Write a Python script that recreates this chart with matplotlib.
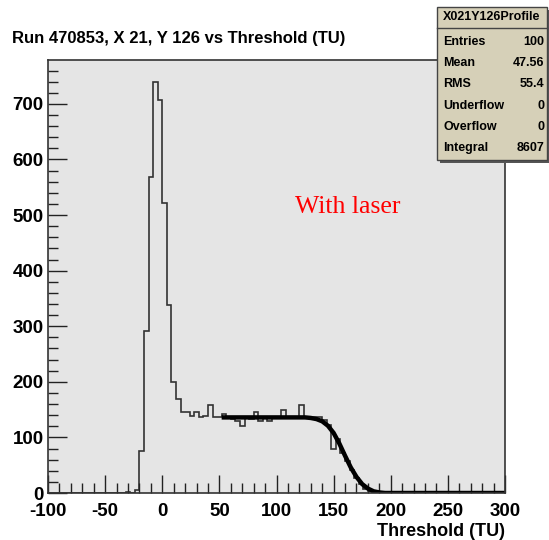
import numpy as np
import matplotlib
matplotlib.use("Agg")
import matplotlib.pyplot as plt
from matplotlib.patches import Rectangle
from matplotlib.ticker import MultipleLocator

plt.rcParams['font.family'] = ['Liberation Sans', 'DejaVu Sans']
plt.rcParams['axes.unicode_minus'] = False

# histogram: 100 bins of width 4 from -100 to 300
x_min, x_max, n_bins = -100, 300, 100
first_edge = -32
counts_read = [1, 0, 5, 75, 292, 568, 740, 707, 522, 338, 199, 170,
               145, 145, 138, 145, 136, 138, 158, 137, 137, 143, 137, 134,
               130, 121, 135, 133, 145, 130, 136, 130, 137, 137, 150, 137,
               137, 135, 158, 137, 137, 136, 136, 131, 122, 79, 97, 72,
               57, 41, 27, 16, 8, 4, 1, 0]

# fit curve
fit_x = [52, 125, 130, 135, 140, 145, 150, 155, 160, 165, 170, 175, 180, 185, 190, 195, 300]
fit_y = [136, 136, 135, 133, 129, 121, 108, 89, 67, 46, 29, 16, 8, 3, 1, 0, 0]

stats_title = "X021Y126Profile"
stats_names = ["Entries", "Mean", "RMS", "Underflow", "Overflow", "Integral"]
stats_values = ["100", "47.56", "55.4", "0", "0", "8607"]

edges = np.linspace(x_min, x_max, n_bins + 1)
counts = np.zeros(n_bins)
i0 = int((first_edge - x_min) / 4)
counts[i0:i0 + len(counts_read)] = counts_read

W, H = 549, 540
fig = plt.figure(figsize=(W / 100, H / 100), dpi=100)
ax = fig.add_axes([48 / W, 1 - 493 / H, 457 / W, 433 / H])
ax.set_facecolor('#e5e5e5')

ax.stairs(counts, edges, color='#333333', lw=1.2)
ax.plot(fit_x, fit_y, color='black', lw=3.2, solid_capstyle='butt')

ax.set_xlim(x_min, x_max)
ax.set_ylim(0, 779)
ax.xaxis.set_major_locator(MultipleLocator(50))
ax.xaxis.set_minor_locator(MultipleLocator(10))
ax.yaxis.set_major_locator(MultipleLocator(100))
ax.yaxis.set_minor_locator(MultipleLocator(20))
ax.tick_params(which='both', direction='in', top=False, right=False,
               labelsize=13.5, width=1, color='#222222')
ax.tick_params(axis='x', which='major', length=13, pad=7)
ax.tick_params(axis='y', which='major', length=14, pad=3)
ax.tick_params(which='minor', length=7)
for lab in ax.get_xticklabels() + ax.get_yticklabels():
    lab.set_fontweight('bold')
for s in ax.spines.values():
    s.set_color('#333333')
    s.set_linewidth(1.2)

ax.set_xlabel("Threshold (TU)", fontsize=13, fontweight='bold', loc='right', labelpad=2)

fig.text(12 / W, 1 - 38 / H, "Run 470853, X 21, Y 126 vs Threshold (TU)",
         fontsize=12, fontweight='bold', va='center', ha='left')

ax.text(116, 515, "With laser", color='red', fontsize=18.5,
        family=['Liberation Serif', 'DejaVu Serif'], ha='left', va='center')

# stats box
bx0, by0, bx1, by1 = 437, 7, 547, 160
fig.patches.append(Rectangle(((bx0 + 3) / W, 1 - (by1 + 3) / H), (bx1 - bx0) / W, (by1 - by0) / H,
                             transform=fig.transFigure, facecolor='#555555', edgecolor='none', zorder=5))
fig.patches.append(Rectangle((bx0 / W, 1 - by1 / H), (bx1 - bx0) / W, (by1 - by0) / H,
                             transform=fig.transFigure, facecolor='#d6d0b8', edgecolor='#444444',
                             lw=1, zorder=6))
fig.add_artist(plt.Line2D([bx0 / W, bx1 / W], [1 - 28 / H, 1 - 28 / H],
                          color='#444444', lw=1, zorder=7))
fig.text((bx0 + bx1) / 2 / W, 1 - 17 / H, stats_title, fontsize=9, fontweight='bold',
         ha='center', va='center', zorder=8)
for k, (nm, val) in enumerate(zip(stats_names, stats_values)):
    yy = 1 - (42 + k * 21.2) / H
    fig.text((bx0 + 6) / W, yy, nm, fontsize=9, fontweight='bold', ha='left', va='center', zorder=8)
    fig.text((bx1 - 3) / W, yy, val, fontsize=9, fontweight='bold', ha='right', va='center', zorder=8)

fig.savefig("out.png", dpi=100)
